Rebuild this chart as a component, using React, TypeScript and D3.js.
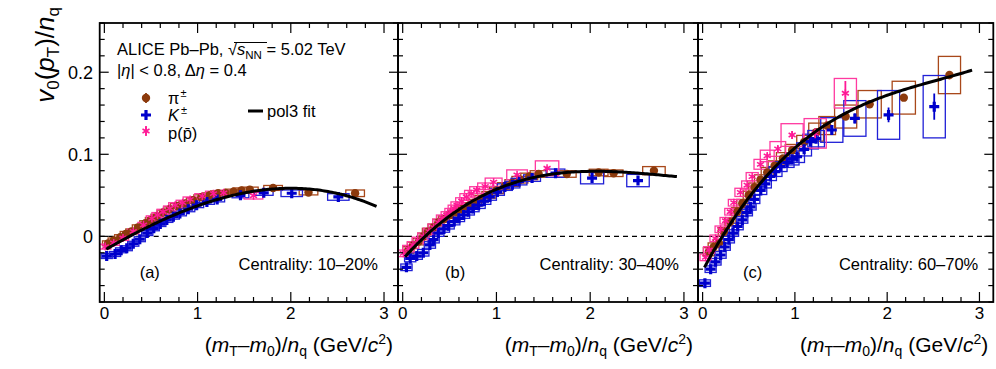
import React from 'react';
import * as d3 from 'd3';

// x = (mT-m0)/nq, v = v0(pT)/nq, stat, sysY (half), sysX (half)
type Pt = [number, number, number, number, number];

const panelLabels = ['(a)', '(b)', '(c)'];
const centralityLabels = ['Centrality: 10–20%', 'Centrality: 30–40%', 'Centrality: 60–70%'];
const xTickValues = [0, 1, 2, 3];
const yTickValues = [0, 0.1, 0.2];

// ---- panel (a) 10-20%
const pionA: Pt[] = [
  [0.04, -0.0085, 0.001, 0.003, 0.06], [0.1, -0.005, 0.001, 0.003, 0.06], [0.17, -0.001, 0.001, 0.003, 0.06],
  [0.23, 0.003, 0.001, 0.003, 0.06], [0.29, 0.006, 0.001, 0.003, 0.06], [0.36, 0.011, 0.001, 0.003, 0.06],
  [0.44, 0.016, 0.001, 0.003, 0.06], [0.5, 0.02, 0.001, 0.003, 0.06], [0.56, 0.024, 0.001, 0.003, 0.06],
  [0.63, 0.029, 0.001, 0.003, 0.065], [0.7, 0.033, 0.001, 0.003, 0.065], [0.78, 0.037, 0.001, 0.003, 0.07],
  [0.87, 0.04, 0.001, 0.003, 0.07], [0.95, 0.044, 0.001, 0.003, 0.07], [1.04, 0.0476, 0.001, 0.003, 0.08],
  [1.13, 0.05, 0.001, 0.003, 0.08], [1.22, 0.0525, 0.001, 0.003, 0.08], [1.3, 0.053, 0.001, 0.003, 0.08],
  [1.385, 0.0545, 0.001, 0.003, 0.09], [1.47, 0.056, 0.001, 0.003, 0.09], [1.56, 0.057, 0.001, 0.003, 0.09],
  [1.81, 0.059, 0.001, 0.003, 0.1], [2.19, 0.0535, 0.0015, 0.003, 0.1], [2.69, 0.0525, 0.002, 0.004, 0.1],
];
const kaonA: Pt[] = [
  [0.025, -0.024, 0.002, 0.003, 0.06], [0.115, -0.0215, 0.001, 0.003, 0.06], [0.18, -0.017, 0.001, 0.003, 0.06],
  [0.24, -0.0145, 0.001, 0.003, 0.06], [0.31, -0.009, 0.001, 0.003, 0.06], [0.38, -0.0035, 0.001, 0.003, 0.06],
  [0.46, 0.004, 0.001, 0.003, 0.06], [0.53, 0.0098, 0.001, 0.003, 0.06], [0.6, 0.015, 0.001, 0.003, 0.06],
  [0.67, 0.02, 0.001, 0.003, 0.065], [0.74, 0.024, 0.001, 0.003, 0.065], [0.81, 0.028, 0.001, 0.003, 0.07],
  [0.9, 0.033, 0.001, 0.003, 0.07], [0.99, 0.038, 0.001, 0.003, 0.075], [1.1, 0.042, 0.001, 0.003, 0.08],
  [1.21, 0.045, 0.001, 0.003, 0.08], [1.46, 0.05, 0.001, 0.003, 0.09], [1.71, 0.053, 0.001, 0.003, 0.1],
  [2.01, 0.0525, 0.002, 0.004, 0.115], [2.51, 0.048, 0.002, 0.004, 0.115],
];
const protonA: Pt[] = [
  [0.01, -0.0125, 0.001, 0.003, 0.06], [0.1, -0.008, 0.001, 0.003, 0.06], [0.2, -0.002, 0.001, 0.003, 0.06],
  [0.31, 0.006, 0.001, 0.003, 0.06], [0.42, 0.014, 0.001, 0.003, 0.06], [0.51, 0.022, 0.001, 0.003, 0.06],
  [0.57, 0.026, 0.001, 0.003, 0.06], [0.63, 0.03, 0.001, 0.003, 0.065], [0.7, 0.034, 0.001, 0.003, 0.065],
  [0.76, 0.038, 0.001, 0.003, 0.07], [0.84, 0.041, 0.001, 0.003, 0.07], [0.92, 0.045, 0.001, 0.003, 0.075],
  [1.05, 0.049, 0.001, 0.003, 0.08], [1.17, 0.052, 0.001, 0.003, 0.085], [1.28, 0.053, 0.001, 0.003, 0.09],
  [1.6, 0.0495, 0.0015, 0.004, 0.1],
];

// ---- panel (b) 30-40%
const pionB: Pt[] = [
  [0.06, -0.0166, 0.001, 0.004, 0.06], [0.11, -0.011, 0.001, 0.004, 0.06], [0.17, -0.0064, 0.001, 0.004, 0.06],
  [0.22, 0.0, 0.001, 0.004, 0.06], [0.27, 0.0058, 0.001, 0.004, 0.06], [0.33, 0.011, 0.001, 0.004, 0.06],
  [0.38, 0.0168, 0.001, 0.004, 0.06], [0.44, 0.021, 0.001, 0.004, 0.06], [0.51, 0.026, 0.001, 0.004, 0.06],
  [0.57, 0.03, 0.001, 0.004, 0.065], [0.63, 0.033, 0.001, 0.004, 0.065], [0.7, 0.037, 0.001, 0.004, 0.065],
  [0.77, 0.041, 0.001, 0.004, 0.07], [0.84, 0.046, 0.001, 0.004, 0.07], [0.92, 0.0505, 0.001, 0.004, 0.075],
  [1.0, 0.056, 0.001, 0.004, 0.075], [1.09, 0.0614, 0.001, 0.004, 0.08], [1.17, 0.065, 0.001, 0.004, 0.08],
  [1.25, 0.069, 0.001, 0.004, 0.085], [1.35, 0.073, 0.001, 0.004, 0.09], [1.45, 0.076, 0.001, 0.004, 0.09],
  [1.75, 0.076, 0.001, 0.004, 0.1], [2.09, 0.0778, 0.001, 0.004, 0.1], [2.25, 0.0769, 0.001, 0.004, 0.1],
  [2.68, 0.08, 0.0015, 0.005, 0.12],
];
const kaonB: Pt[] = [
  [0.04, -0.0377, 0.002, 0.004, 0.06], [0.08, -0.027, 0.001, 0.004, 0.06], [0.15, -0.024, 0.001, 0.004, 0.06],
  [0.22, -0.02, 0.001, 0.004, 0.06], [0.29, -0.0105, 0.001, 0.004, 0.06], [0.33, -0.004, 0.001, 0.004, 0.06],
  [0.38, 0.004, 0.001, 0.004, 0.06], [0.44, 0.009, 0.001, 0.004, 0.06], [0.49, 0.013, 0.001, 0.004, 0.06],
  [0.55, 0.018, 0.001, 0.004, 0.06], [0.6, 0.022, 0.001, 0.004, 0.06], [0.65, 0.026, 0.001, 0.004, 0.065],
  [0.7, 0.03, 0.001, 0.004, 0.065], [0.75, 0.034, 0.001, 0.004, 0.065], [0.81, 0.038, 0.001, 0.004, 0.07],
  [0.87, 0.043, 0.001, 0.004, 0.07], [0.93, 0.048, 0.001, 0.004, 0.07], [1.01, 0.054, 0.001, 0.004, 0.075],
  [1.09, 0.06, 0.001, 0.004, 0.08], [1.17, 0.063, 0.001, 0.004, 0.08], [1.24, 0.0667, 0.001, 0.004, 0.085],
  [1.38, 0.071, 0.001, 0.004, 0.09], [1.63, 0.077, 0.0015, 0.005, 0.1], [2.02, 0.071, 0.002, 0.007, 0.123],
  [2.51, 0.068, 0.002, 0.0075, 0.12],
];
const protonB: Pt[] = [
  [0.007, -0.0207, 0.001, 0.004, 0.06], [0.06, -0.015, 0.001, 0.004, 0.06], [0.11, -0.0105, 0.001, 0.004, 0.06],
  [0.16, -0.005, 0.001, 0.004, 0.06], [0.22, 0.0, 0.001, 0.004, 0.06], [0.28, 0.006, 0.001, 0.004, 0.06],
  [0.33, 0.011, 0.001, 0.004, 0.06], [0.38, 0.017, 0.001, 0.004, 0.06], [0.42, 0.022, 0.001, 0.004, 0.06],
  [0.47, 0.026, 0.001, 0.004, 0.06], [0.51, 0.03, 0.001, 0.004, 0.06], [0.55, 0.034, 0.001, 0.004, 0.065],
  [0.58, 0.038, 0.001, 0.004, 0.065], [0.63, 0.043, 0.001, 0.004, 0.065], [0.68, 0.048, 0.001, 0.004, 0.07],
  [0.73, 0.052, 0.001, 0.004, 0.07], [0.79, 0.0565, 0.001, 0.004, 0.075], [0.88, 0.061, 0.001, 0.004, 0.08],
  [0.97, 0.066, 0.0015, 0.005, 0.09], [1.22, 0.075, 0.002, 0.006, 0.11], [1.54, 0.083, 0.002, 0.009, 0.125],
];

// ---- panel (c) 60-70%
const pionC: Pt[] = [
  [0.068, -0.0187, 0.002, 0.005, 0.06], [0.12, -0.013, 0.002, 0.005, 0.06], [0.177, -0.0085, 0.002, 0.005, 0.06],
  [0.23, 0.0057, 0.002, 0.005, 0.06], [0.3, 0.0178, 0.002, 0.005, 0.06], [0.375, 0.03, 0.002, 0.005, 0.06],
  [0.43, 0.04, 0.002, 0.005, 0.06], [0.5, 0.05, 0.002, 0.005, 0.06], [0.56, 0.06, 0.002, 0.005, 0.06],
  [0.627, 0.069, 0.002, 0.006, 0.065], [0.7, 0.078, 0.002, 0.006, 0.065], [0.78, 0.086, 0.002, 0.006, 0.07],
  [0.87, 0.095, 0.002, 0.007, 0.07], [0.97, 0.105, 0.002, 0.007, 0.075], [1.1, 0.115, 0.002, 0.008, 0.08],
  [1.23, 0.127, 0.002, 0.011, 0.08], [1.35, 0.135, 0.002, 0.011, 0.09], [1.55, 0.146, 0.003, 0.014, 0.12],
  [1.81, 0.161, 0.003, 0.0167, 0.126], [2.18, 0.169, 0.004, 0.02, 0.126], [2.675, 0.1966, 0.005, 0.0227, 0.12],
];
const kaonC: Pt[] = [
  [0.025, -0.057, 0.002, 0.004, 0.06], [0.087, -0.04, 0.002, 0.004, 0.06], [0.14, -0.031, 0.002, 0.004, 0.06],
  [0.195, -0.0227, 0.002, 0.004, 0.06], [0.24, -0.013, 0.002, 0.004, 0.06], [0.285, -0.004, 0.002, 0.004, 0.06],
  [0.33, 0.004, 0.002, 0.004, 0.06], [0.38, 0.012, 0.002, 0.004, 0.06], [0.43, 0.02, 0.002, 0.004, 0.06],
  [0.48, 0.029, 0.002, 0.004, 0.06], [0.52, 0.036, 0.002, 0.004, 0.06], [0.56, 0.045, 0.002, 0.005, 0.06],
  [0.63, 0.056, 0.002, 0.005, 0.065], [0.68, 0.064, 0.002, 0.005, 0.065], [0.735, 0.073, 0.002, 0.005, 0.065],
  [0.79, 0.079, 0.002, 0.006, 0.07], [0.845, 0.085, 0.002, 0.006, 0.07], [0.916, 0.09, 0.002, 0.006, 0.075],
  [0.97, 0.094, 0.002, 0.007, 0.075], [1.024, 0.097, 0.002, 0.007, 0.08], [1.1, 0.106, 0.002, 0.008, 0.08],
  [1.17, 0.1155, 0.003, 0.009, 0.085], [1.23, 0.119, 0.003, 0.01, 0.09], [1.4, 0.1296, 0.004, 0.015, 0.12],
  [1.65, 0.1437, 0.006, 0.0217, 0.12], [2.015, 0.148, 0.009, 0.0297, 0.12], [2.51, 0.158, 0.016, 0.038, 0.12],
];
const protonC: Pt[] = [
  [0.032, -0.0256, 0.002, 0.004, 0.06], [0.07, -0.0166, 0.002, 0.004, 0.06], [0.14, -0.0024, 0.002, 0.004, 0.06],
  [0.195, 0.0086, 0.002, 0.004, 0.06], [0.249, 0.019, 0.002, 0.004, 0.06], [0.3, 0.03, 0.002, 0.004, 0.06],
  [0.339, 0.041, 0.002, 0.004, 0.06], [0.41, 0.0536, 0.002, 0.005, 0.06], [0.483, 0.0625, 0.002, 0.005, 0.06],
  [0.537, 0.0727, 0.002, 0.005, 0.065], [0.627, 0.0878, 0.003, 0.006, 0.07], [0.7, 0.098, 0.003, 0.007, 0.075],
  [0.815, 0.1065, 0.004, 0.009, 0.085], [0.97, 0.1235, 0.005, 0.0138, 0.12], [1.22, 0.1255, 0.006, 0.018, 0.12],
  [1.547, 0.1744, 0.015, 0.018, 0.12],
];

// pol3 fit coefficients (c0..c3) and range
const fitA = [-0.017, 0.06553, -0.00883, -0.002517];
const fitB = [-0.028, 0.1286, -0.04895, 0.005732];
const fitC = [-0.042, 0.21094, -0.07032, 0.009164];
const fitRanges = [[0.02, 2.93], [0.025, 2.93], [0.02, 2.93]];

const pionData = [pionA, pionB, pionC];
const kaonData = [kaonA, kaonB, kaonC];
const protonData = [protonA, protonB, protonC];
const fits = [fitA, fitB, fitC];

const FONT = '"Liberation Sans", Arial, Helvetica, sans-serif';
const colPion = '#8c3a0c', colPionBox = '#a8481a';
const colKaon = '#0000cc', colKaonBox = '#2020d6';
const colProton = '#ff1a96', colProtonBox = '#ff3aa0';

const TOP = 23, BOTTOM = 302;
const frames = [[99.7, 398], [398, 698], [698, 993.3]];
const centralityRight = [20, 19, 15];
const labelLeft = [40, 47, 45];

const Pion = ({x, y}: {x: number; y: number}) => <circle cx={x} cy={y} r={4.2} fill={colPion} />;
const Kaon = ({x, y}: {x: number; y: number}) => (
  <path d={`M${x - 5},${y - 1.6}h${3.4}v${-3.4}h${3.2}v${3.4}h${3.4}v${3.2}h${-3.4}v${3.4}h${-3.2}v${-3.4}h${-3.4}z`} fill={colKaon} />
);
const Proton = ({x, y}: {x: number; y: number}) => (
  <g stroke={colProton} strokeWidth={1.5}>
    <line x1={x} y1={y - 4} x2={x} y2={y + 4} />
    <line x1={x - 3.5} y1={y - 2} x2={x + 3.5} y2={y + 2} />
    <line x1={x - 3.5} y1={y + 2} x2={x + 3.5} y2={y - 2} />
  </g>
);

function Panel({i}: {i: number}) {
  const [l, r] = frames[i];
  const x = d3.scaleLinear().domain([-0.05, 3.15]).range([l, r]);
  const y = d3.scaleLinear().domain([-0.08, 0.26]).range([BOTTOM, TOP]);
  const coef = fits[i];
  const pol3 = (t: number) => coef[0] + coef[1] * t + coef[2] * t * t + coef[3] * t * t * t;
  const [f0, f1] = fitRanges[i];
  const fitPts = d3.range(f0, f1 + 1e-6, 0.02);
  const fitLine = d3.line<number>().x((t) => x(t)).y((t) => y(pol3(t)));

  const species = [
    {data: pionData[i], box: colPionBox, line: colPion, M: Pion},
    {data: kaonData[i], box: colKaonBox, line: colKaon, M: Kaon},
    {data: protonData[i], box: colProtonBox, line: colProton, M: Proton},
  ];
  const yMinor = y.ticks(20);
  const xMinor = x.ticks(16);
  return (
    <g>
      <clipPath id={`clip${i}`}>
        <rect x={l} y={TOP} width={r - l} height={BOTTOM - TOP} />
      </clipPath>
      <line x1={l} x2={r} y1={y(0)} y2={y(0)} stroke="#000" strokeWidth={1.2} strokeDasharray="5,4" />
      <g clipPath={`url(#clip${i})`}>
        {species.map((s, k) => (
          <g key={k}>
            {s.data.map((d, j) => (
              <rect key={j} x={x(d[0] - d[4])} y={y(d[1] + d[3])} width={x(d[0] + d[4]) - x(d[0] - d[4])}
                height={y(d[1] - d[3]) - y(d[1] + d[3])} fill="none" stroke={s.box} strokeWidth={1.3} />
            ))}
          </g>
        ))}
        {species.map((s, k) => (
          <g key={k}>
            {s.data.map((d, j) => (
              <g key={j}>
                <line x1={x(d[0])} x2={x(d[0])} y1={y(d[1] - d[2])} y2={y(d[1] + d[2])} stroke={s.line} strokeWidth={1.8} />
                <s.M x={x(d[0])} y={y(d[1])} />
              </g>
            ))}
          </g>
        ))}
        <path d={fitLine(fitPts) || ''} fill="none" stroke="#000" strokeWidth={3} />
      </g>
      {/* ticks */}
      <g stroke="#000" strokeWidth={1.2}>
        {yMinor.map((t) => {
          const len = yTickValues.some((v) => Math.abs(v - t) < 1e-9) ? 9 : 5;
          return (
            <g key={`y${t}`}>
              <line x1={l} x2={l + len} y1={y(t)} y2={y(t)} />
              <line x1={r} x2={r - len} y1={y(t)} y2={y(t)} />
            </g>
          );
        })}
        {xMinor.map((t) => {
          const len = xTickValues.includes(Math.round(t * 1000) / 1000) ? 10 : 5;
          return (
            <g key={`x${t}`}>
              <line x1={x(t)} x2={x(t)} y1={BOTTOM} y2={BOTTOM - len} />
              <line x1={x(t)} x2={x(t)} y1={TOP} y2={TOP + len} />
            </g>
          );
        })}
      </g>
      <rect x={l} y={TOP} width={r - l} height={BOTTOM - TOP} fill="none" stroke="#000" strokeWidth={1.8} />
      {xTickValues.map((t) => (
        <text key={t} x={x(t)} y={319} textAnchor="middle" fontSize={17}>{t}</text>
      ))}
      {i === 0 && yTickValues.map((t) => (
        <text key={t} x={93} y={y(t) + 6.5} textAnchor="end" fontSize={18}>{t === 0 ? '0' : t.toFixed(1)}</text>
      ))}
      <text x={r - 5} y={352} textAnchor="end" fontSize={21}>
        (<tspan fontStyle="italic">m</tspan><tspan fontSize={14} dy={4}>T</tspan><tspan dy={-4}>–</tspan>
        <tspan fontStyle="italic">m</tspan><tspan fontSize={14} dy={4}>0</tspan><tspan dy={-4}>)/</tspan>
        <tspan fontStyle="italic">n</tspan><tspan fontSize={14} dy={4}>q</tspan>
        <tspan dy={-4}> (GeV/</tspan><tspan fontStyle="italic">c</tspan><tspan fontSize={14} dy={-8}>2</tspan><tspan dy={8}>)</tspan>
      </text>
      <text x={r - centralityRight[i]} y={270} textAnchor="end" fontSize={16.5}>{centralityLabels[i]}</text>
      <text x={l + labelLeft[i]} y={278} fontSize={16.5}>{panelLabels[i]}</text>
    </g>
  );
}

export default function App() {
  return (
    <svg width={996} height={369} style={{position: 'absolute', left: 0, top: 0, background: '#fff'}} fontFamily={FONT}>
      <rect width={996} height={369} fill="#fff" />
      {[0, 1, 2].map((i) => <Panel key={i} i={i} />)}
      {/* y title */}
      <text transform="translate(54,7) rotate(-90)" textAnchor="end" fontSize={26}>
        <tspan fontStyle="italic">v</tspan><tspan fontSize={17} dy={5}>0</tspan><tspan dy={-5}>(</tspan>
        <tspan fontStyle="italic">p</tspan><tspan fontSize={17} dy={5}>T</tspan><tspan dy={-5}>)/</tspan>
        <tspan fontStyle="italic">n</tspan><tspan fontSize={17} dy={5}>q</tspan>
      </text>
      {/* header */}
      <text x={117} y={55} fontSize={16.5}>
        ALICE Pb–Pb, √<tspan fontStyle="italic">s</tspan><tspan fontSize={11.5} dy={4}>NN</tspan><tspan dy={-4}> = 5.02 TeV</tspan>
      </text>
      <line x1={234} x2={267} y1={42.5} y2={42.5} stroke="#000" strokeWidth={1} />
      <text x={117} y={76} fontSize={16.5}>
        |<tspan fontStyle="italic">η</tspan>| &lt; 0.8, Δ<tspan fontStyle="italic">η</tspan> = 0.4
      </text>
      {/* legend */}
      <line x1={146} x2={146} y1={93} y2={103} stroke={colPion} strokeWidth={1.8} />
      <Pion x={146} y={98} />
      <text x={168} y={104} fontSize={16.5}>π<tspan fontSize={11} dx={1} dy={-7}>±</tspan></text>
      <line x1={146} x2={146} y1={110} y2={120} stroke={colKaon} strokeWidth={1.8} />
      <Kaon x={146} y={115} />
      <text x={168} y={121} fontSize={16.5}><tspan fontStyle="italic">K</tspan><tspan fontSize={11} dx={2} dy={-7}>±</tspan></text>
      <line x1={146} x2={146} y1={126} y2={136} stroke={colProton} strokeWidth={1.8} />
      <Proton x={146} y={131} />
      <text x={168} y={139} fontSize={16.5}>p(p̄)</text>
      <line x1={248} x2={263} y1={111} y2={111} stroke="#000" strokeWidth={3} />
      <text x={267} y={117} fontSize={16.5}>pol3 fit</text>
    </svg>
  );
}
